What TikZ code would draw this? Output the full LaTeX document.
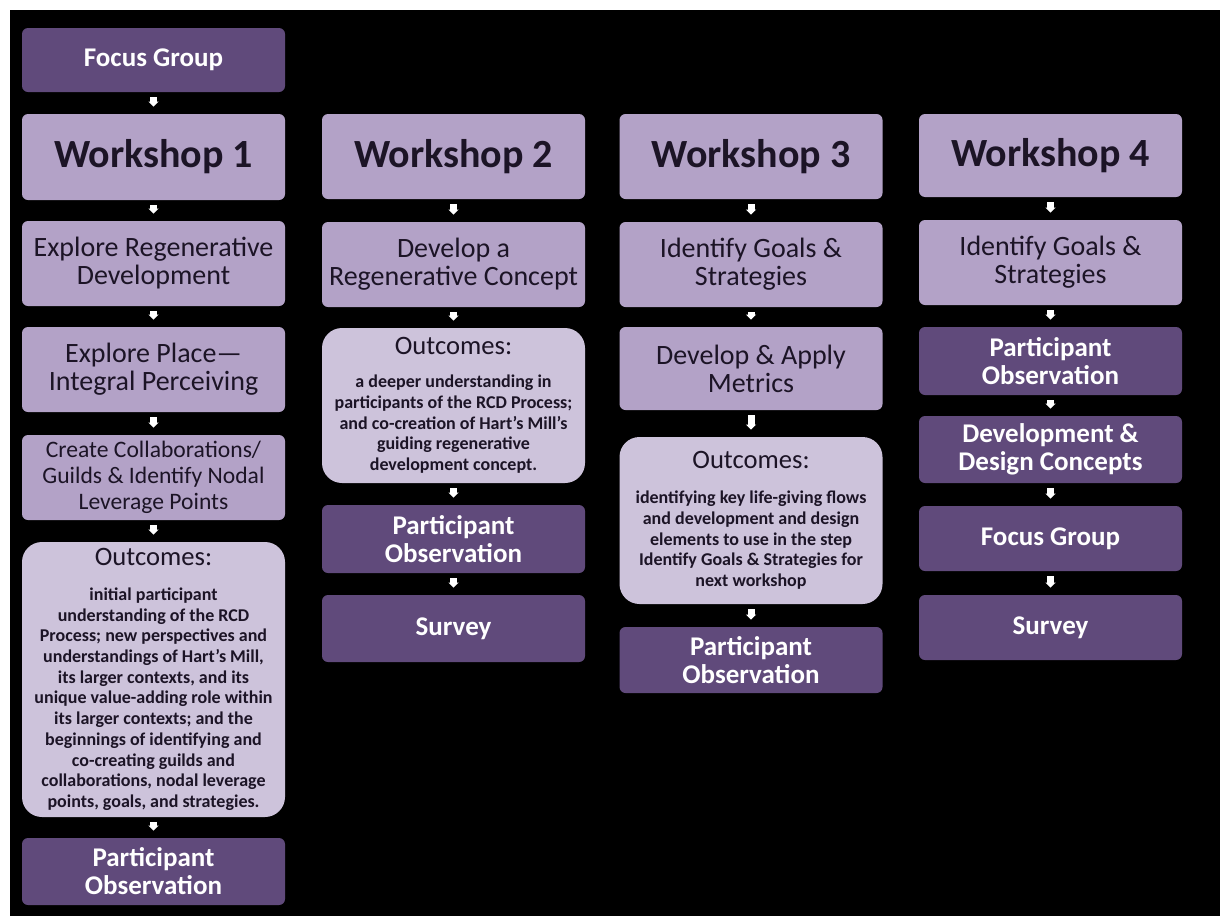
\documentclass[tikz,border=0pt]{standalone}
\usepackage{fontspec}
\setmainfont{Carlito}
\usepackage{xcolor}
\usetikzlibrary{arrows.meta}
\definecolor{lilac}{RGB}{179,162,199}
\definecolor{palelilac}{RGB}{205,195,219}
\definecolor{plum}{RGB}{96,74,123}
\definecolor{ink}{RGB}{28,20,38}

\begin{document}
\begin{tikzpicture}[x=0.5pt,y=-0.5pt,
	box/.style={rectangle, rounded corners=3pt, minimum width=131.5pt, inner sep=1pt, align=center},
	light/.style={box, fill=lilac, text=ink, font=\fontsize{14}{14}\selectfont},
	wstitle/.style={light, font=\bfseries\fontsize{20}{22}\selectfont},
	dark/.style={box, fill=plum, text=white, font=\bfseries\fontsize{13.5}{14}\selectfont},
	outc/.style={box, rounded corners=10pt, fill=palelilac, text=ink, font=\bfseries\fontsize{9}{10.35}\selectfont},
	flow/.style={draw=white, line width=3.5pt, shorten <=2.5pt, shorten >=3.5pt, -{Triangle[width=5pt,length=2.5pt]}}]
\fill[white] (0,0) rectangle (1220,916);
\fill[black] (10,10) rectangle (1220,916);

\node[dark, minimum height=32pt] (fg1) at (153.5,60) {Focus Group};
\node[wstitle, minimum height=43pt] (ws1) at (153.5,157) {Workshop 1};
\node[light, minimum height=42.5pt] (ex1) at (153.5,263.5) {Explore Regenerative\\Development};
\node[light, minimum height=42.5pt] (pl1) at (153.5,369.5) {Explore Place—\\Integral Perceiving};
\node[light, minimum height=42.5pt, font=\fontsize{11.8}{12.9}\selectfont] (co1) at (153.5,477.5) {Create Collaborations/\\Guilds \& Identify Nodal\\Leverage Points};
\node[outc, minimum height=137.5pt] (oc1) at (153.5,679.5) {{\mdseries\fontsize{13.3}{14}\selectfont Outcomes:}\\[7pt]
	initial participant\\understanding of the RCD\\Process; new perspectives and\\understandings of Hart’s Mill,\\its larger contexts, and its\\unique value-adding role within\\its larger contexts; and the\\beginnings of identifying and\\co-creating guilds and\\collaborations, nodal leverage\\points, goals, and strategies.};
\node[dark, minimum height=33.5pt] (po1) at (153.5,871.5) {Participant\\Observation};

\node[wstitle, minimum height=42.5pt] (ws2) at (453.5,156.5) {Workshop 2};
\node[light, minimum height=42.5pt] (dv2) at (453.5,264.5) {Develop a\\Regenerative Concept};
\node[outc, minimum height=77.5pt] (oc2) at (453.5,405.5) {{\mdseries\fontsize{13.3}{14}\selectfont Outcomes:}\\[6pt]
	a deeper understanding in\\participants of the RCD Process;\\and co-creation of Hart’s Mill’s\\guiding regenerative\\development concept.};
\node[dark, minimum height=34pt] (po2) at (453.5,539) {Participant\\Observation};
\node[dark, minimum height=33.5pt] (su2) at (453.5,628.5) {Survey};

\node[wstitle, minimum height=42.5pt] (ws3) at (751,156.5) {Workshop 3};
\node[light, minimum height=42.5pt] (id3) at (751,264.5) {Identify Goals \&\\Strategies};
\node[light, minimum height=41.5pt] (me3) at (751,368.5) {Develop \& Apply\\Metrics};
\node[outc, minimum height=83.5pt] (oc3) at (751,520.5) {{\mdseries\fontsize{13.3}{14}\selectfont Outcomes:}\\[7pt]
	identifying key life-giving flows\\and development and design\\elements to use in the step\\Identify Goals \& Strategies for\\next workshop};
\node[dark, minimum height=33pt] (po3) at (751,660) {Participant\\Observation};

\node[wstitle, minimum height=41.5pt] (ws4) at (1050.5,155.5) {Workshop 4};
\node[light, minimum height=42.5pt] (id4) at (1050.5,262.5) {Identify Goals \&\\Strategies};
\node[dark, minimum height=34pt] (po4) at (1050.5,361) {Participant\\Observation};
\node[dark, minimum height=33.5pt] (dd4) at (1050.5,449.5) {Development \&\\Design Concepts};
\node[dark, minimum height=32.5pt] (fg4) at (1050.5,538.5) {Focus Group};
\node[dark, minimum height=32.5pt] (su4) at (1050.5,627.5) {Survey};

\draw[flow] (fg1) -- (ws1);
\draw[flow] (ws1) -- (ex1);
\draw[flow] (ex1) -- (pl1);
\draw[flow] (pl1) -- (co1);
\draw[flow] (co1) -- (oc1);
\draw[flow] (oc1) -- (po1);
\draw[flow] (ws2) -- (dv2);
\draw[flow] (dv2) -- (oc2);
\draw[flow] (oc2) -- (po2);
\draw[flow] (po2) -- (su2);
\draw[flow] (ws3) -- (id3);
\draw[flow] (id3) -- (me3);
\draw[flow] (me3) -- (oc3);
\draw[flow] (oc3) -- (po3);
\draw[flow] (ws4) -- (id4);
\draw[flow] (id4) -- (po4);
\draw[flow] (po4) -- (dd4);
\draw[flow] (dd4) -- (fg4);
\draw[flow] (fg4) -- (su4);
\end{tikzpicture}
\end{document}
